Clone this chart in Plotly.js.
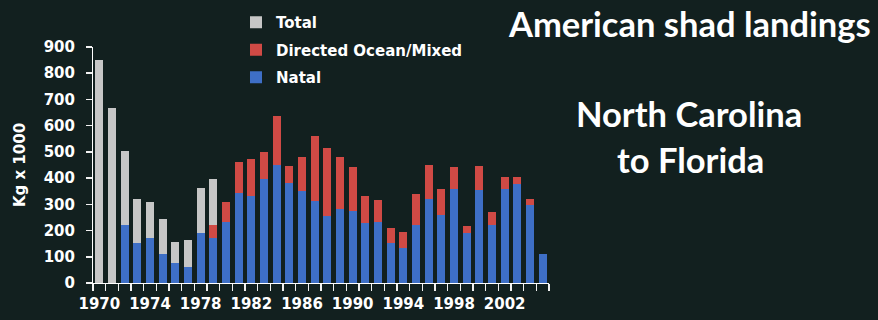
<!DOCTYPE html>
<html>
<head>
<meta charset="utf-8">
<script src="https://cdn.plot.ly/plotly-3.0.1.min.js"></script>
<style>
  html, body { margin: 0; padding: 0; background: #12201f; }
  #chart { width: 878px; height: 320px; }
</style>
</head>
<body>
<div id="chart"></div>
<script>
// American shad landings, North Carolina to Florida (kg x 1000)
const years = [1970, 1971, 1972, 1973, 1974, 1975, 1976, 1977, 1978, 1979,
               1980, 1981, 1982, 1983, 1984, 1985, 1986, 1987, 1988, 1989,
               1990, 1991, 1992, 1993, 1994, 1995, 1996, 1997, 1998, 1999,
               2000, 2001, 2002, 2003, 2004, 2005];

// Natal (river) landings
const natal = [null, null, 220, 152, 172, 112, 76, 62, 190, 173,
               233, 344, 331, 397, 451, 380, 349, 313, 256, 282,
               275, 229, 231, 153, 132, 221, 320, 259, 358, 191,
               353, 221, 359, 377, 296, 112];

// Directed ocean / mixed-stock landings
const directed = [null, null, 0, 0, 0, 0, 0, 0, 0, 47,
                  75, 116, 143, 101, 186, 66, 133, 247, 260, 200,
                  166, 101, 86, 57, 62, 120, 131, 100, 84, 25,
                  95, 51, 44, 26, 26, 0];

// Total landings
const total = [852, 666, 502, 322, 308, 245, 158, 163, 361, 396,
               308, 460, 474, 498, 637, 446, 482, 560, 516, 482,
               441, 330, 317, 210, 194, 341, 451, 359, 442, 216,
               448, 272, 403, 403, 322, 112];

const yearLabels = ['1970', '1974', '1978', '1982', '1986', '1990', '1994', '1998', '2002'];
const yearLabelVals = [1970, 1974, 1978, 1982, 1986, 1990, 1994, 1998, 2002];

// Grey part of each stacked bar: whatever the total exceeds natal + directed
const totalRest = total.map((t, i) => t - (natal[i] || 0) - (directed[i] || 0));

// Tick marks sit on the boundaries between yearly bars
const boundaries = years.map(y => y - 0.5).concat([years[years.length - 1] + 0.5]);
const xRange = [boundaries[0], boundaries[boundaries.length - 1]];

const BG = '#12201f';
const boldFont = { family: 'DejaVu Sans', size: 15, color: '#ffffff', weight: 700 };
const titleFont = { family: 'Lato', size: 34.5, color: '#ffffff', weight: 700 };

const M = { l: 93, r: 329, t: 47, b: 37 };
const W = 878, H = 320;
const plotW = W - M.l - M.r;
const plotH = H - M.t - M.b;
// pixel position -> plot-domain fraction
const fx = px => (px - M.l) / plotW;
const fy = py => (H - M.b - py) / plotH;

const traces = [
  { type: 'bar', name: 'Natal', x: years, y: natal, legendgroup: 'n', legendrank: 3,
    marker: { color: '#3e6fc6', line: { width: 0 } }, width: 0.64 },
  { type: 'bar', name: 'Directed Ocean/Mixed', x: years, y: directed, legendgroup: 'd', legendrank: 2,
    marker: { color: '#d04a45', line: { width: 0 } }, width: 0.64 },
  { type: 'bar', name: 'Total', x: years, y: totalRest, legendgroup: 't', legendrank: 1,
    marker: { color: '#c6c6c6', line: { width: 0 } }, width: 0.64 },
  // carrier for the year-label axis (draws nothing)
  { type: 'scatter', mode: 'markers', x: [], y: [], xaxis: 'x2', yaxis: 'y',
    showlegend: false, hoverinfo: 'skip' }
];

const layout = {
  width: W, height: H,
  paper_bgcolor: BG, plot_bgcolor: BG,
  margin: { l: M.l, r: M.r, t: M.t, b: M.b, pad: 0, autoexpand: false },
  barmode: 'stack',
  bargap: 0,
  showlegend: true,
  legend: {
    x: fx(236), y: fy(6), xanchor: 'left', yanchor: 'top',
    bgcolor: 'rgba(0,0,0,0)', font: boldFont,
    traceorder: 'grouped', tracegroupgap: 5
  },
  // bar-boundary tick marks
  xaxis: {
    range: xRange,
    showgrid: false, zeroline: false,
    showline: true, linecolor: '#ffffff', linewidth: 1,
    tickmode: 'array', tickvals: boundaries,
    ticks: 'outside', ticklen: 7, tickwidth: 1.5, tickcolor: '#f2f2f2',
    showticklabels: false
  },
  // year labels every four years
  xaxis2: {
    overlaying: 'x', anchor: 'y', side: 'bottom',
    range: xRange,
    showgrid: false, zeroline: false, showline: false,
    tickmode: 'array', tickvals: yearLabelVals, ticktext: yearLabels,
    ticks: '', ticklabelstandoff: 10,
    tickfont: boldFont
  },
  yaxis: {
    range: [0, 900],
    showgrid: false, zeroline: false,
    showline: true, linecolor: '#ffffff', linewidth: 1,
    tickmode: 'linear', tick0: 0, dtick: 100,
    ticks: 'outside', ticklen: 6, tickwidth: 1.5, tickcolor: '#f2f2f2',
    ticklabelstandoff: 8,
    tickfont: boldFont,
    title: { text: 'Kg x 1000', font: boldFont, standoff: 14 }
  },
  annotations: [
    { text: 'American shad landings', xref: 'x domain', yref: 'y domain',
      x: fx(689), y: fy(23), showarrow: false, xanchor: 'center', yanchor: 'middle',
      font: titleFont },
    { text: 'North Carolina', xref: 'x domain', yref: 'y domain',
      x: fx(689), y: fy(113), showarrow: false, xanchor: 'center', yanchor: 'middle',
      font: titleFont },
    { text: 'to Florida', xref: 'x domain', yref: 'y domain',
      x: fx(690), y: fy(159), showarrow: false, xanchor: 'center', yanchor: 'middle',
      font: titleFont }
  ]
};

Plotly.newPlot('chart', traces, layout, { staticPlot: true, displayModeBar: false });
</script>
</body>
</html>
